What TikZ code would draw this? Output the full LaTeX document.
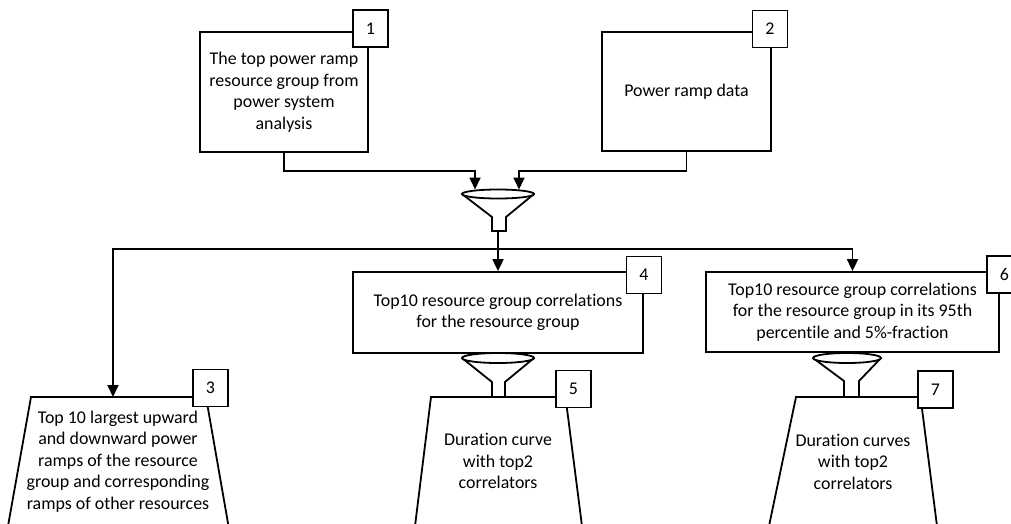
\documentclass[tikz,border=0pt]{standalone}
\usepackage{fontspec}
\setmainfont{Carlito}[Ligatures=NoCommon]
\usetikzlibrary{arrows.meta}
\begin{document}
\begin{tikzpicture}[x=1pt,y=-1pt,
  lw/.style={line width=1.8pt},
  box/.style={draw, lw, fill=white, inner sep=0pt},
  txt/.style={align=center, font=\fontsize{17.9}{21.5}\selectfont, inner sep=0pt},
  num/.style={draw, lw, fill=white, minimum width=35pt, minimum height=37pt, inner sep=0pt, font=\fontsize{17.9}{20}\selectfont},
  arr/.style={lw, -{Triangle[width=11pt,length=12pt]}},
  ln/.style={lw},
  funnel/.style={draw, lw, fill=white, line join=miter}
]
\useasboundingbox (0,0) rectangle (1011,523);

% ---- main boxes
\node[box, txt, minimum width=168pt, minimum height=120pt] (b1) at (284,92)
  {The top power ramp\\resource group from\\power system\\analysis};
\node[box, txt, minimum width=169pt, minimum height=119pt] (b2) at (686.5,91.5)
  {Power ramp data};
\node[box, txt, minimum width=290pt, minimum height=81pt] (b4) at (498,312.5)
  {Top10 resource group correlations\\for the resource group};
\node[box, txt, minimum width=293pt, minimum height=80pt] (b6) at (852.5,312)
  {Top10 resource group correlations\\for the resource group in its 95th\\percentile and 5\%-fraction};

% ---- trapezoids
\draw[lw, fill=white] (8,526) -- (31,397) -- (206,397) -- (228.5,526);
\node[txt] (t3) at (118,461.5)
  {Top 10 largest upward\\and downward power\\ramps of the resource\\group and corresponding\\ramps of other resources};
\coordinate (t3top) at (113,397);

\draw[lw, fill=white] (415,526) -- (431,397) -- (565.5,397) -- (582,526);
\node[txt] (t5) at (498,461) {Duration curve\\with top2\\correlators};

\draw[lw, fill=white] (769,526) -- (796,397) -- (920.5,397) -- (937,526);
\node[txt] (t7) at (853,461.5) {Duration curves\\with top2\\correlators};

% ---- funnels
\draw[funnel] (462,194) -- (492,217) -- (492,231) -- (506,231) -- (506,217) -- (534,194);
\draw[lw, fill=white] (498,194) ellipse [x radius=36, y radius=4.5];
\coordinate (f1l) at (475,189.5);
\coordinate (f1r) at (519,189.5);
\coordinate (f1) at (498,231);

\draw[funnel] (462,358) -- (492,382) -- (492,397) -- (505,397) -- (505,382) -- (534,358);
\draw[lw, fill=white] (498,358) ellipse [x radius=36, y radius=5];

\draw[funnel] (813,358) -- (844,381) -- (844,397) -- (859,397) -- (859,381) -- (881,358);
\draw[lw, fill=white] (847,358) ellipse [x radius=34, y radius=5];

% ---- connectors
\coordinate (j1) at (0,171);
\coordinate (hl) at (0,249);
\draw[arr] (b1.south) -- (b1.south |- j1) -| (f1l);
\draw[arr] (b2.south) -- (b2.south |- j1) -| (f1r);
\draw[arr] (f1) -- (b4.north);
\draw[arr] (f1 |- hl) -| (t3top);
\draw[arr] (f1 |- hl) -| (b6.north);

% ---- number boxes
\node[num] (n1) at (370.5,28.5) {1};
\node[num] (n2) at (770,29) {2};
\node[num] (n3) at (210.5,388) {3};
\node[num] (n4) at (644,275) {4};
\node[num] (n5) at (573.5,389) {5};
\node[num] (n6) at (1004.5,274.5) {6};
\node[num] (n7) at (935.5,389.5) {7};
\end{tikzpicture}
\end{document}
